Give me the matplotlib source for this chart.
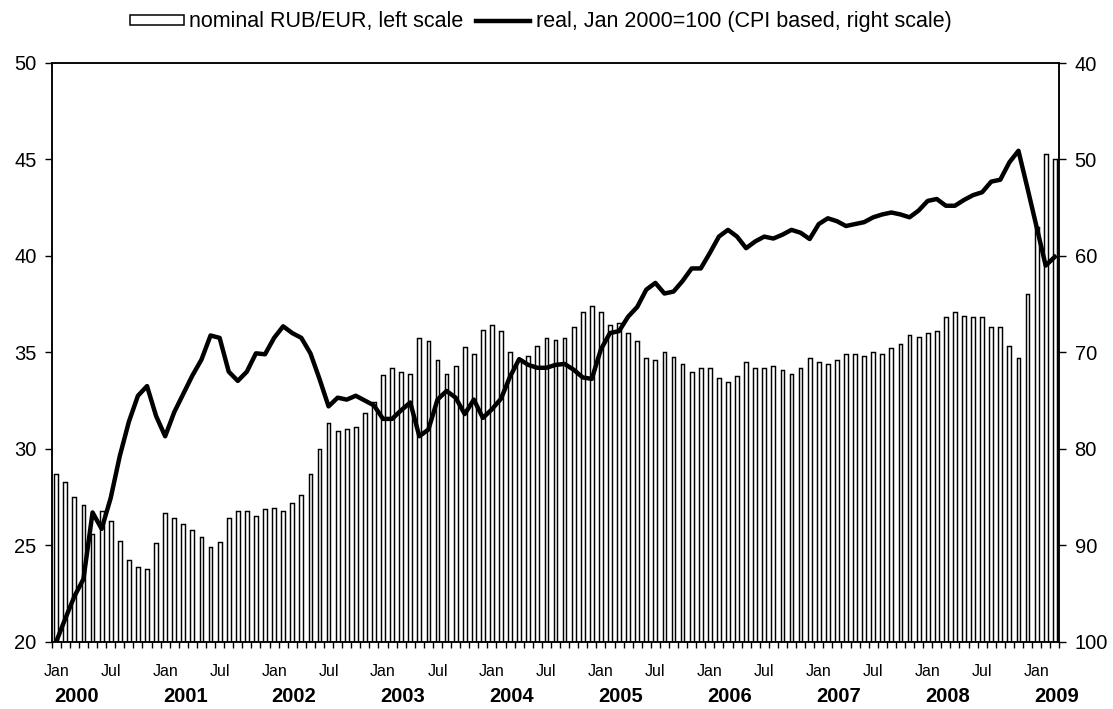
import numpy as np
import matplotlib
matplotlib.use("Agg")
import matplotlib.pyplot as plt
import matplotlib.transforms as mtransforms
from matplotlib.patches import Patch
from matplotlib.lines import Line2D

plt.rcParams['font.family'] = ['Liberation Sans', 'DejaVu Sans']

# ---- data (monthly, Jan 2000 .. Mar 2009) ----
years = [2000, 2001, 2002, 2003, 2004, 2005, 2006, 2007, 2008, 2009]
half_year_labels = ['Jan', 'Jul']

nominal_rub_eur = [
    28.7, 28.3, 27.5, 27.1, 25.6, 26.8, 26.25, 25.2, 24.25, 23.85, 23.77, 25.1,   # 2000
    26.65, 26.4, 26.1, 25.8, 25.45, 24.9, 25.15, 26.4, 26.8, 26.8, 26.5, 26.9,    # 2001
    26.95, 26.8, 27.2, 27.6, 28.7, 30.0, 31.33, 30.92, 31.02, 31.13, 31.83, 32.44,  # 2002
    33.83, 34.21, 33.98, 33.88, 35.75, 35.6, 34.58, 33.9, 34.31, 35.29, 34.94, 36.17,  # 2003
    36.42, 36.13, 35.0, 34.58, 34.81, 35.31, 35.73, 35.65, 35.73, 36.33, 37.1, 37.42,  # 2004
    37.1, 36.4, 36.5, 36.0, 35.6, 34.69, 34.58, 35.0, 34.77, 34.4, 33.98, 34.19,  # 2005
    34.19, 33.69, 33.48, 33.79, 34.48, 34.19, 34.19, 34.29, 34.08, 33.9, 34.19, 34.69,  # 2006
    34.48, 34.4, 34.58, 34.9, 34.9, 34.8, 35.0, 34.9, 35.21, 35.42, 35.9, 35.79,  # 2007
    36.0, 36.1, 36.81, 37.1, 36.9, 36.81, 36.81, 36.31, 36.31, 35.31, 34.71, 38.0,  # 2008
    41.5, 45.29, 45.0,                                                            # 2009
]

real_index = [
    100.0, 97.6, 95.3, 93.5, 86.6, 88.3, 85.1, 80.75, 77.2, 74.5, 73.5, 76.6,    # 2000
    78.7, 76.2, 74.3, 72.4, 70.75, 68.25, 68.5, 72.0, 72.96, 72.0, 70.1, 70.2,   # 2001
    68.5, 67.3, 68.0, 68.5, 70.1, 72.75, 75.6, 74.7, 74.9, 74.5, 75.0, 75.5,     # 2002
    76.9, 76.9, 76.0, 75.2, 78.7, 78.0, 74.9, 74.0, 74.7, 76.4, 74.9, 76.8,      # 2003
    75.9, 74.8, 72.5, 70.7, 71.3, 71.6, 71.6, 71.3, 71.2, 71.8, 72.6, 72.75,     # 2004
    69.7, 68.0, 67.8, 66.3, 65.3, 63.5, 62.8, 63.9, 63.7, 62.6, 61.3, 61.3,      # 2005
    59.7, 58.0, 57.3, 58.0, 59.2, 58.5, 58.0, 58.2, 57.8, 57.3, 57.6, 58.25,     # 2006
    56.7, 56.1, 56.4, 56.9, 56.7, 56.5, 56.0, 55.7, 55.5, 55.7, 56.0, 55.3,      # 2007
    54.3, 54.1, 54.8, 54.8, 54.2, 53.7, 53.4, 52.3, 52.1, 50.3, 49.1, 53.0,      # 2008
    57.0, 61.0, 60.1,                                                            # 2009
]

legend_labels = ['nominal RUB/EUR, left scale',
                 'real, Jan 2000=100 (CPI based, right scale)']

n = len(nominal_rub_eur)
x = np.arange(n)

W, H = 1113, 709
fig = plt.figure(figsize=(W / 100, H / 100), dpi=100)
ax_l, ax_r, ax_t, ax_b = 51.7, 1059.3, 63.0, 641.7
ax = fig.add_axes([ax_l / W, 1 - ax_b / H, (ax_r - ax_l) / W, (ax_b - ax_t) / H])

ax.bar(x, nominal_rub_eur, width=0.42, color='white', edgecolor='black',
       linewidth=1.05, zorder=2)
ax.set_xlim(-0.5, n - 0.5)
ax.set_ylim(20, 50)
ax.set_yticks(range(20, 51, 5))
ax.tick_params(axis='y', direction='out', length=5, width=1, pad=6, labelsize=14.5)
ax.set_xticks(np.arange(-0.5, n, 1))
ax.tick_params(axis='x', direction='out', length=4.5, width=1, labelbottom=False)

ax2 = ax.twinx()
ax2.set_ylim(100, 40)
ax2.set_yticks(range(40, 101, 10))
ax2.tick_params(axis='y', direction='out', length=5, width=1, pad=6, labelsize=14.5)
ax2.plot(x, real_index, color='black', lw=3.2, zorder=3)

for a in (ax, ax2):
    for s in a.spines.values():
        s.set_linewidth(1.1)

trans = mtransforms.blended_transform_factory(ax.transData, fig.transFigure)
for i in range(0, n, 6):
    lab = half_year_labels[0] if i % 12 == 0 else half_year_labels[1]
    ax.text(i, 1 - 671.5 / H, lab, transform=trans, ha='center', va='center',
            fontsize=11.5, clip_on=False)
for k, yr in enumerate(years):
    ax.text(12 * k + 2.2, 1 - 697 / H, str(yr), transform=trans, ha='center',
            va='center', fontsize=14.5, fontweight='bold', clip_on=False)

handles = [Patch(facecolor='white', edgecolor='black', linewidth=1.1),
           Line2D([], [], color='black', lw=3.2)]
fig.legend(handles, legend_labels, loc='center left',
           bbox_to_anchor=(130 / W, 1 - 22 / H), ncol=2, frameon=False,
           fontsize=15.5, handlelength=2.5, handleheight=0.34,
           handletextpad=0.25, columnspacing=0.6, borderpad=0, borderaxespad=0)

fig.savefig('out.png', dpi=100)
